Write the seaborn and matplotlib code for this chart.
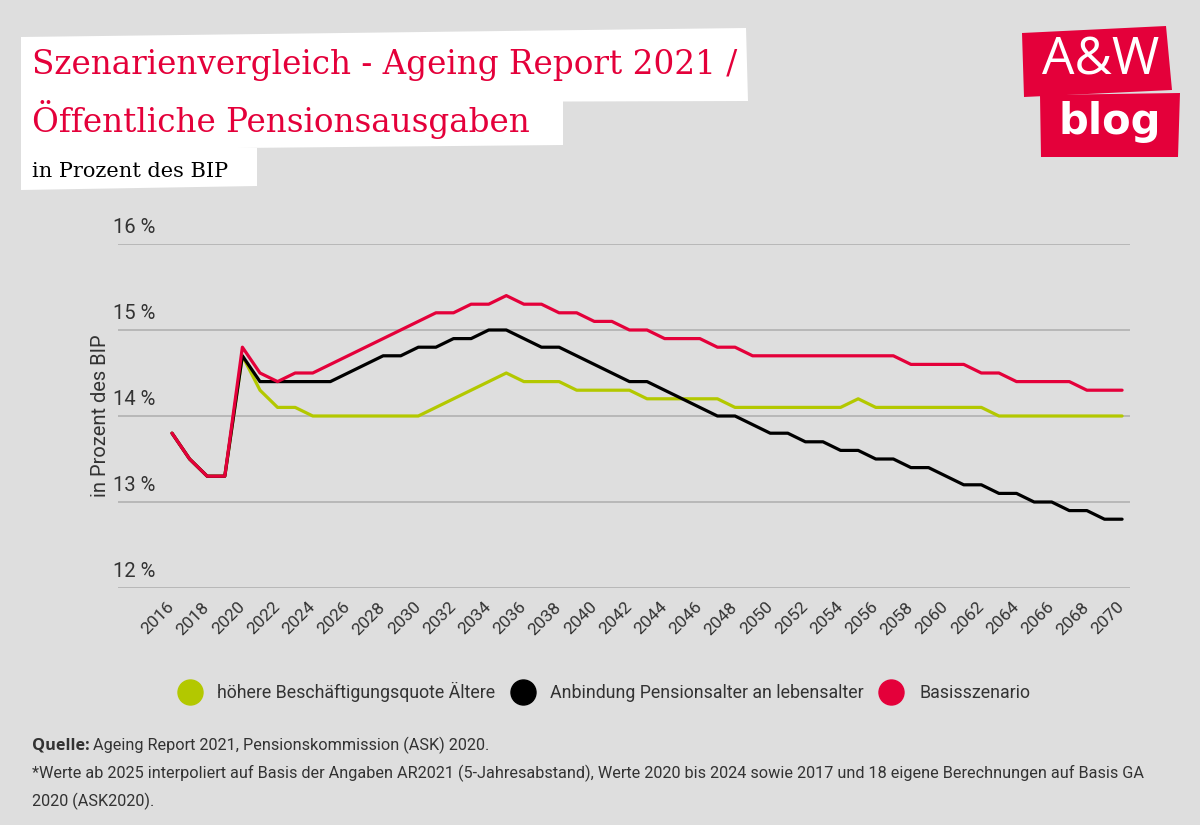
import matplotlib
matplotlib.use("Agg")
import matplotlib.pyplot as plt
import matplotlib.transforms as mtransforms
from matplotlib.lines import Line2D
from matplotlib.patches import Polygon
import seaborn as sns
import pandas as pd

# --- Daten ---
years = list(range(2016, 2071))

basis = [13.8, 13.5, 13.3, 13.3, 14.8, 14.5, 14.4, 14.5, 14.5, 14.6,
         14.7, 14.8, 14.9, 15.0, 15.1, 15.2, 15.2, 15.3, 15.3, 15.4,
         15.3, 15.3, 15.2, 15.2, 15.1, 15.1, 15.0, 15.0, 14.9, 14.9,
         14.9, 14.8, 14.8, 14.7, 14.7, 14.7, 14.7, 14.7, 14.7, 14.7,
         14.7, 14.7, 14.6, 14.6, 14.6, 14.6, 14.5, 14.5, 14.4, 14.4,
         14.4, 14.4, 14.3, 14.3, 14.3]

anbindung = [13.8, 13.5, 13.3, 13.3, 14.7, 14.4, 14.4, 14.4, 14.4, 14.4,
             14.5, 14.6, 14.7, 14.7, 14.8, 14.8, 14.9, 14.9, 15.0, 15.0,
             14.9, 14.8, 14.8, 14.7, 14.6, 14.5, 14.4, 14.4, 14.3, 14.2,
             14.1, 14.0, 14.0, 13.9, 13.8, 13.8, 13.7, 13.7, 13.6, 13.6,
             13.5, 13.5, 13.4, 13.4, 13.3, 13.2, 13.2, 13.1, 13.1, 13.0,
             13.0, 12.9, 12.9, 12.8, 12.8]

beschaeftigung = [13.8, 13.5, 13.3, 13.3, 14.7, 14.3, 14.1, 14.1, 14.0, 14.0,
                  14.0, 14.0, 14.0, 14.0, 14.0, 14.1, 14.2, 14.3, 14.4, 14.5,
                  14.4, 14.4, 14.4, 14.3, 14.3, 14.3, 14.3, 14.2, 14.2, 14.2,
                  14.2, 14.2, 14.1, 14.1, 14.1, 14.1, 14.1, 14.1, 14.1, 14.2,
                  14.1, 14.1, 14.1, 14.1, 14.1, 14.1, 14.1, 14.0, 14.0, 14.0,
                  14.0, 14.0, 14.0, 14.0, 14.0]

series_names = ["höhere Beschäftigungsquote Ältere",
                "Anbindung Pensionsalter an lebensalter",
                "Basisszenario"]
series_colors = ["#b3c800", "#000000", "#e4003a"]
y_ticks = [12, 13, 14, 15, 16]
x_ticks = list(range(2016, 2071, 2))

df = pd.DataFrame({
    "Jahr": years * 3,
    "Wert": beschaeftigung + anbindung + basis,
    "Szenario": [series_names[0]] * len(years) + [series_names[1]] * len(years)
                + [series_names[2]] * len(years),
})

BG = "#dedede"
RED = "#e4003a"
TXT = "#333333"

sns.set_theme(style="white")
plt.rcParams["font.family"] = ["Roboto", "DejaVu Sans"]

fig = plt.figure(figsize=(12, 8.25), dpi=100, facecolor=BG)


def fx(x):
    return x / 1200


def fy(y):
    return 1 - y / 825


# --- Titelboxen ---
for pts in [
    [(21, 37), (746, 28), (748, 101), (21, 103)],
    [(21, 100), (563, 100), (563, 145), (21, 150)],
    [(21, 148), (257, 148), (257, 186), (21, 190)],
]:
    fig.patches.append(Polygon([(fx(a), fy(b)) for a, b in pts], closed=True,
                               transform=fig.transFigure, facecolor="white",
                               edgecolor="none", zorder=0))

fig.text(fx(32), fy(74), "Szenarienvergleich - Ageing Report 2021 /",
         color=RED, fontsize=23.5, family="DejaVu Serif", va="baseline")
fig.text(fx(32), fy(132), "Öffentliche Pensionsausgaben",
         color=RED, fontsize=23.5, family="DejaVu Serif", va="baseline")
fig.text(fx(32), fy(177), "in Prozent des BIP",
         color="black", fontsize=15, family="DejaVu Serif", va="baseline")

# --- Logo ---
fig.patches.append(Polygon([(fx(a), fy(b)) for a, b in
                            [(1022, 33), (1166, 26), (1172, 90), (1024, 97)]],
                           closed=True, transform=fig.transFigure,
                           facecolor=RED, edgecolor="none"))
fig.patches.append(Polygon([(fx(a), fy(b)) for a, b in
                            [(1040, 95), (1180, 93), (1178, 157), (1041, 157)]],
                           closed=True, transform=fig.transFigure,
                           facecolor=RED, edgecolor="none"))
fig.text(fx(1101), fy(61), "A&W", color="white", fontsize=37,
         ha="center", va="center", family="Open Sans")
fig.text(fx(1110), fy(122), "blog", color="white", fontsize=30,
         fontweight="bold", ha="center", va="center", family="DejaVu Sans")

# --- Diagramm ---
ax = fig.add_axes([fx(118), fy(588), fx(1130) - fx(118), fy(244) - fy(588)])
ax.set_facecolor(BG)

sns.lineplot(data=df, x="Jahr", y="Wert", hue="Szenario", hue_order=series_names,
             palette=series_colors, linewidth=2.3, ax=ax, legend=False)

ax.set_xlim(2012.93, 2070.45)
ax.set_ylim(12, 16)
ax.set_yticks(y_ticks)
ax.set_yticklabels([])
ax.tick_params(axis="y", length=0)
ax.grid(axis="y", color="#b4b4b4", linewidth=1.3)
ax.set_axisbelow(True)
for s in ax.spines.values():
    s.set_visible(False)

ytrans = mtransforms.offset_copy(ax.get_yaxis_transform(), fig=fig, x=0, y=11, units="dots")
for v in y_ticks:
    ax.text(-0.005, v, f"{v} %", transform=ytrans, fontsize=14.5, color=TXT,
            ha="left", va="baseline")

ax.set_xticks(x_ticks)
ax.set_xticklabels([str(t) for t in x_ticks], rotation=45, ha="right",
                   va="center", rotation_mode="anchor", fontsize=12.5, color=TXT)
ax.tick_params(axis="x", length=0, pad=12)
ax.set_xlabel("")
ax.set_ylabel("in Prozent des BIP", fontsize=14.5, color=TXT, labelpad=2)

# --- Legende ---
handles = [Line2D([], [], marker="o", linestyle="", markersize=18, color=c)
           for c in series_colors]
leg = fig.legend(handles, series_names, loc="center", ncol=3,
                 bbox_to_anchor=(fx(604), fy(692)), frameon=False,
                 fontsize=12.8, handletextpad=0.9, columnspacing=0.9,
                 handlelength=1.3)
for t in leg.get_texts():
    t.set_color(TXT)

# --- Quelle ---
fig.canvas.draw()
q = fig.text(fx(32), fy(750), "Quelle:", fontsize=11.7, fontweight="bold",
             family="Open Sans", color=TXT, va="baseline")
bb = q.get_window_extent(renderer=fig.canvas.get_renderer())
fig.text(bb.x1 / 1200 + 0.003, fy(750),
         "Ageing Report 2021, Pensionskommission (ASK) 2020.",
         fontsize=11.7, color=TXT, va="baseline")
fig.text(fx(32), fy(778),
         "*Werte ab 2025 interpoliert auf Basis der Angaben AR2021 (5-Jahresabstand), "
         "Werte 2020 bis 2024 sowie 2017 und 18 eigene Berechnungen auf Basis GA",
         fontsize=11.7, color=TXT, va="baseline")
fig.text(fx(32), fy(806), "2020 (ASK2020).", fontsize=11.7, color=TXT, va="baseline")

fig.savefig("out.png", dpi=100, facecolor=BG)
